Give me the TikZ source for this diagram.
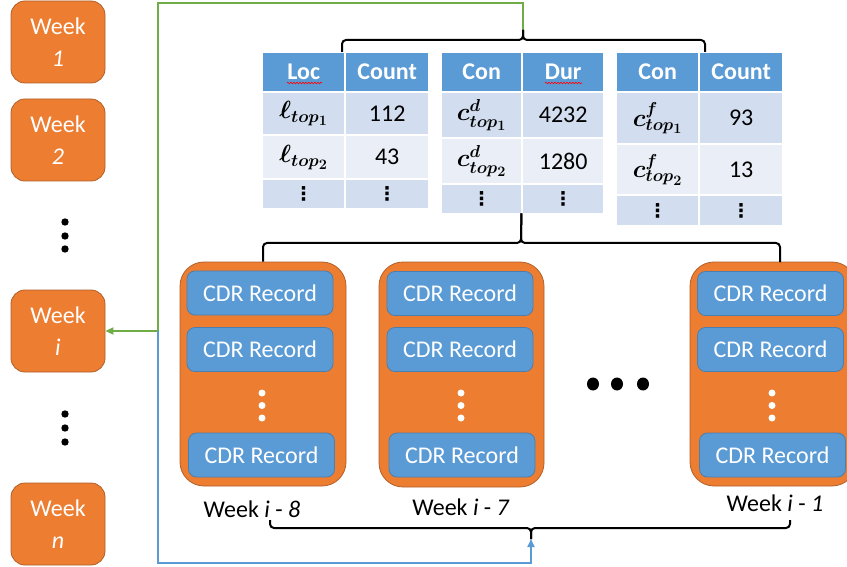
\documentclass[tikz,border=0pt]{standalone}
\usepackage[no-math]{fontspec}
\setmainfont{Carlito}
\newfontfamily\dotsfont{DejaVu Sans}
\usepackage{bm}
\DeclareMathSizes{24}{24}{19}{14}
\usetikzlibrary{arrows.meta,decorations.pathmorphing}

\definecolor{wkfill}{HTML}{ED7D31}
\definecolor{wkline}{HTML}{B0602A}
\definecolor{recfill}{HTML}{5B9BD5}
\definecolor{recline}{HTML}{4A7FB0}
\definecolor{hdrfill}{HTML}{5B9BD5}
\definecolor{rowdark}{HTML}{D2DEEF}
\definecolor{rowlight}{HTML}{EAEFF7}
\definecolor{flowgreen}{HTML}{70AD47}
\definecolor{flowblue}{HTML}{5B9BD5}

% vertical ellipsis for table cells
\newcommand\colvdots{{\dotsfont\bfseries\fontsize{19}{20}\selectfont ⋮}}

\tikzset{
  week/.style={rounded corners=14pt, fill=wkfill, draw=wkline, line width=0.8pt,
    minimum width=94pt, minimum height=82pt, inner sep=0pt, text=white, align=center,
    font=\fontsize{24}{32}\selectfont},
  bin/.style={rounded corners=24pt, fill=wkfill, draw=wkline, line width=0.8pt, inner sep=0pt},
  rec/.style={rounded corners=8pt, fill=recfill, draw=recline, line width=0.8pt,
    minimum width=146pt, minimum height=44pt, inner sep=0pt, text=white,
    font=\fontsize{24}{28}\selectfont},
  cell/.style 2 args={anchor=north west, inner sep=0pt, minimum width=#1, minimum height=#2},
  hdr/.style={fill=hdrfill, text=white, font=\fontsize{24}{28}\selectfont\bfseries},
  rowa/.style={fill=rowdark, font=\fontsize{24}{28}\selectfont},
  rowb/.style={fill=rowlight, font=\fontsize{24}{28}\selectfont},
  brk/.style={draw=black, line width=2pt, rounded corners=4pt},
  flow/.style={line width=1.8pt, -{Triangle[length=8pt,width=7pt]}},
  lbl/.style={font=\fontsize{24}{28}\selectfont},
  squiggle/.style={draw=red, line width=0.6pt, decorate,
    decoration={snake, amplitude=0.8pt, segment length=3pt}},
}

\begin{document}
\begin{tikzpicture}[x=1pt,y=-1pt]
\useasboundingbox (0,0) rectangle (847,567);
\clip (0,0) rectangle (847,567);

% ---- list of weeks ----
\node[week] (w1) at (58,42) {Week\\\textit{1}};
\node[week] (w2) at (58,140) {Week\\\textit{2}};
\node[week] (wi) at (58,331) {Week\\\textit{i}};
\node[week] (wn) at (58,524) {Week\\\textit{n}};
\foreach \y in {222,236,249,414,428,442} \fill (65,\y) circle (3.7);

% ---- table: locations ----
\node[cell={81}{38},hdr] (ta-h1) at (263,53) {Loc};
\node[cell={82}{38},hdr] (ta-h2) at (346,53) {Count};
\node[cell={81}{41},rowa] (ta-a1) at (263,93) {$\bm{\ell_{top_1}}$};
\node[cell={82}{41},rowa] (ta-a2) at (346,93) {112};
\node[cell={81}{42},rowb] (ta-b1) at (263,136) {$\bm{\ell_{top_2}}$};
\node[cell={82}{42},rowb] (ta-b2) at (346,136) {43};
\node[cell={81}{28},rowa] (ta-c1) at (263,180) {\colvdots};
\node[cell={82}{28},rowa] (ta-c2) at (346,180) {\colvdots};

% ---- table: contacts by duration ----
\node[cell={79}{38},hdr] (tb-h1) at (442,53) {Con};
\node[cell={80}{38},hdr] (tb-h2) at (523,53) {Dur};
\node[cell={79}{44},rowa] (tb-a1) at (442,93) {$\bm{c^{d}_{top_1}}$};
\node[cell={80}{44},rowa] (tb-a2) at (523,93) {4232};
\node[cell={79}{44},rowb] (tb-b1) at (442,139) {$\bm{c^{d}_{top_2}}$};
\node[cell={80}{44},rowb] (tb-b2) at (523,139) {1280};
\node[cell={79}{28},rowa] (tb-c1) at (442,185) {\colvdots};
\node[cell={80}{28},rowa] (tb-c2) at (523,185) {\colvdots};

% ---- table: contacts by frequency ----
\node[cell={81}{38},hdr] (tc-h1) at (617,53) {Con};
\node[cell={82}{38},hdr] (tc-h2) at (700,53) {Count};
\node[cell={81}{50},rowa] (tc-a1) at (617,93) {$\bm{c^{f}_{top_1}}$};
\node[cell={82}{50},rowa] (tc-a2) at (700,93) {93};
\node[cell={81}{49},rowb] (tc-b1) at (617,145) {$\bm{c^{f}_{top_2}}$};
\node[cell={82}{49},rowb] (tc-b2) at (700,145) {13};
\node[cell={81}{29},rowa] (tc-c1) at (617,196) {\colvdots};
\node[cell={82}{29},rowa] (tc-c2) at (700,196) {\colvdots};

\draw[squiggle] (287,83) -- (322,83);
\draw[squiggle] (545,83) -- (582,83);

% ---- weekly record bins ----
\node[bin, minimum width=166pt, minimum height=224pt] (b1) at (263,374) {};
\node[bin, minimum width=165pt, minimum height=225pt] (b2) at (461.5,374.5) {};
\node[bin, minimum width=166pt, minimum height=224pt] (b3) at (773,374) {};

\node[rec] (b1-r1) at (260,293) {CDR Record};
\node[rec] (b1-r2) at (260,349.5) {CDR Record};
\node[rec] (b1-r3) at (261.5,455) {CDR Record};
\node[rec] (b2-r1) at (460,293.5) {CDR Record};
\node[rec] (b2-r2) at (460,349.5) {CDR Record};
\node[rec] (b2-r3) at (462,455) {CDR Record};
\node[rec] (b3-r1) at (770.5,293.5) {CDR Record};
\node[rec] (b3-r2) at (770.5,349.5) {CDR Record};
\node[rec] (b3-r3) at (772.5,455) {CDR Record};

\foreach \x in {262,461,772}
  \foreach \y in {393,405.5,418} \fill[white] (\x,\y) circle (3.5);

\foreach \x in {593,617,643} \fill (\x,384) ellipse [x radius=6, y radius=6.5];

\node[lbl] (l1) at (252,509) {Week \textit{i} - \textit{8}};
\node[lbl] (l2) at (461,507) {Week \textit{i} - \textit{7}};
\node[lbl] (l3) at (775,503) {Week \textit{i} - \textit{1}};

% ---- flow connectors ----
\coordinate (ttip) at (523,30);
\coordinate (gtop) at (523,3);
\coordinate (junc) at (158,331);
\coordinate (btip) at (531,539);
\coordinate (bcorner) at (531,563);
\draw[flow, draw=flowgreen] (ttip) -- (gtop) -| (junc) -- (wi.east);
\draw[flow, draw=flowblue] (junc) |- (bcorner) -- (btip);

% ---- braces ----
\draw[brk] (342,52) |- (523,40) -- (ttip);
\draw[brk] (705,52) |- (523,40) -- (ttip);
\coordinate (mtip) at (tb-c1.south east);
\draw[brk] (b1.north) |- (521,243) -- (mtip);
\draw[brk] (780,262) |- (521,243) -- (mtip);
\draw[brk] (270,520) |- (531,528) -- (btip);
\draw[brk] (790,520) |- (531,528) -- (btip);
\end{tikzpicture}
\end{document}
